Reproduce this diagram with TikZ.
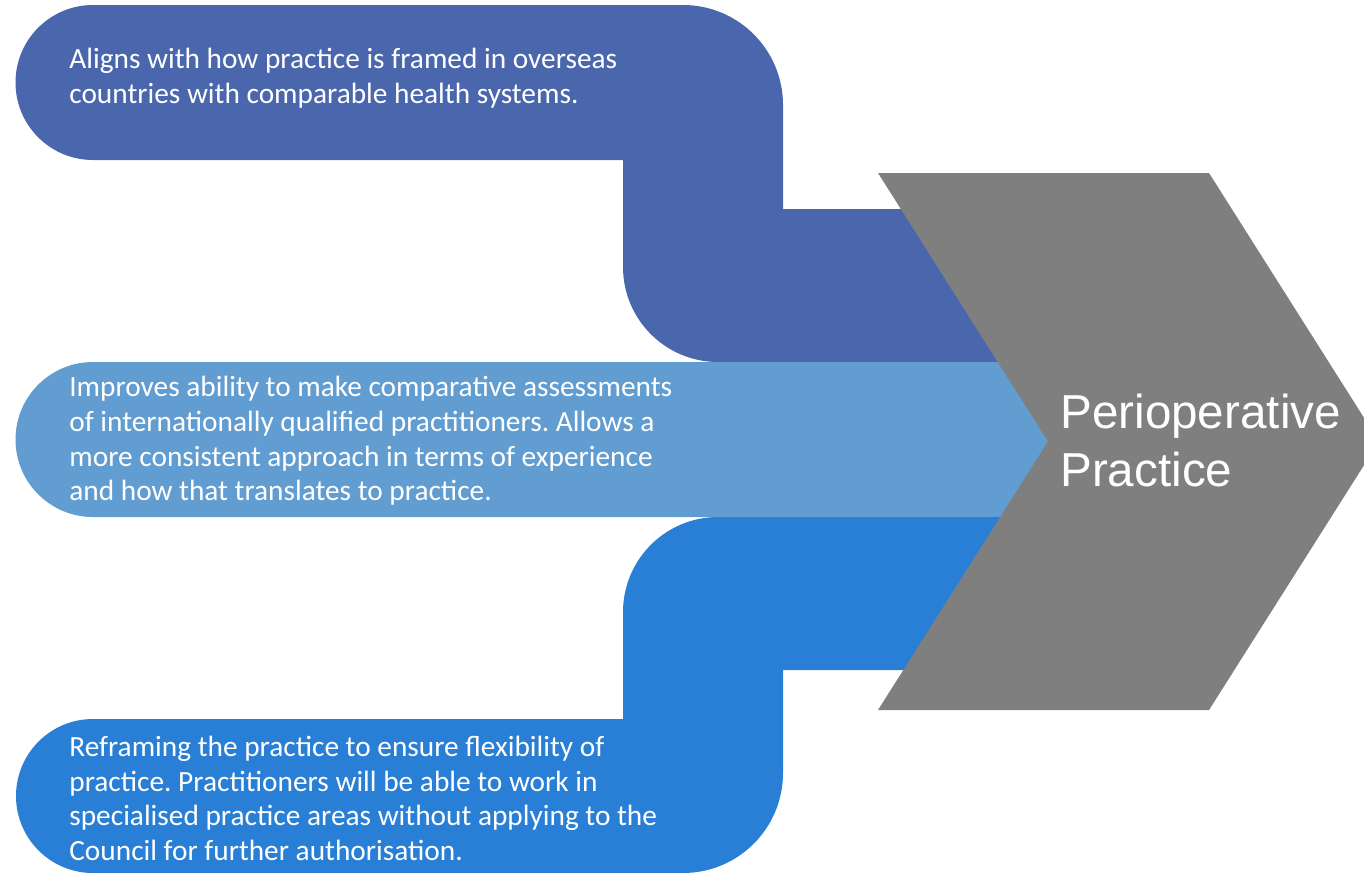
\documentclass[tikz,border=0pt]{standalone}
\usepackage{fontspec}
\setmainfont{Carlito}
\newfontfamily\arialfont{Liberation Sans}
\frenchspacing
\definecolor{darkband}{HTML}{4A66AC}
\definecolor{lightband}{HTML}{629DD1}
\definecolor{midband}{HTML}{297FD5}
\definecolor{chevgray}{HTML}{7F7F7F}
\begin{document}
\begin{tikzpicture}[x=0.02cm, y=-0.02cm,
	bandtext/.style={anchor=base west, align=left, inner sep=0, text=white, font=\fontsize{16.7}{19.7}\selectfont},
	chevtext/.style={anchor=base west, align=left, inner sep=0, text=white, font=\arialfont\fontsize{27.1}{32.9}\selectfont}]
	\useasboundingbox (0,0) rectangle (1364,872);
	\clip (0,0) rectangle (1364,872);
	% bands
	\fill[darkband] (93,160) arc[start angle=90, end angle=270, radius=77.5] -- (683,5) arc[start angle=270, end angle=360, radius=100] -- (783,209) -- (1100,209) -- (1100,362) -- (718,362) arc[start angle=90, end angle=180, radius=95] -- (623,160) -- cycle;
	\fill[lightband] (93,517) arc[start angle=90, end angle=270, radius=77.5] -- (1100,362) -- (1100,517) -- cycle;
	\fill[midband] (93,719) arc[start angle=270, end angle=90, radius=77] -- (683,873) arc[start angle=90, end angle=0, radius=100] -- (783,670) -- (1100,670) -- (1100,517) -- (718,517) arc[start angle=270, end angle=180, radius=95] -- (623,719) -- cycle;
	% chevron
	\fill[chevgray] (878,173) -- (1209,173) -- (1379,441.5) -- (1209,710) -- (878,710) -- (1048,441.5) -- cycle;
	% texts (base = last line)
	\node[bandtext] (aligns) at (69,103.3) {Aligns with how practice is framed in overseas\\countries with comparable health systems.};
	\node[bandtext] (improves) at (69,500.7) {Improves ability to make comparative assessments\\of internationally qualified practitioners. Allows a\\more consistent approach in terms of experience\\and how that translates to practice.};
	\node[bandtext] (reframing) at (69,860.5) {Reframing the practice to ensure flexibility of\\practice. Practitioners will be able to work in\\specialised practice areas without applying to the\\Council for further authorisation.};
	\node[chevtext] (periop) at (1060,486.7) {Perioperative\\Practice};
\end{tikzpicture}
\end{document}
